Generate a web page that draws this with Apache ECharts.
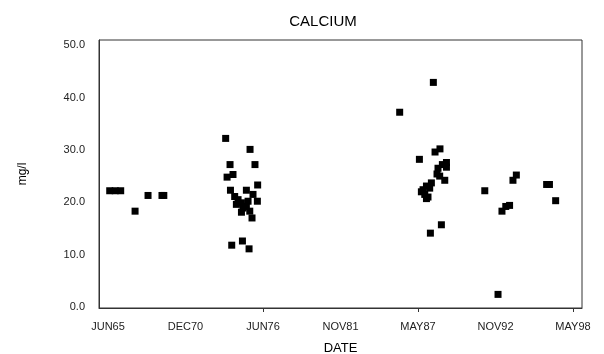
<!DOCTYPE html>
<html>
<head>
<meta charset="utf-8">
<script src="https://cdn.jsdelivr.net/npm/echarts@6/dist/echarts.min.js"></script>
<style>html,body{margin:0;padding:0;background:#fff}#c{width:604px;height:354px}</style>
</head>
<body>
<div id="c"></div>
<script>
// Sample dates (decimal years) and calcium concentrations (mg/l)
var dates = [
  1965.54, 1965.93, 1966.32, 1967.34, 1968.26, 1969.25, 1969.38,
  1973.77, 1975.50, 1974.08, 1975.85, 1973.87, 1974.29, 1976.04, 1974.11, 1975.24, 1975.71, 1976.02,
  1974.41, 1974.65, 1974.53, 1974.89, 1975.00, 1975.36, 1975.24, 1974.89, 1975.48, 1975.64,
  1974.20, 1974.96, 1975.43,
  1988.51, 1986.12, 1988.98, 1988.63, 1987.52,
  1989.44, 1989.15, 1988.84, 1989.44, 1988.77, 1988.96, 1989.32,
  1988.37, 1988.02, 1987.78, 1987.66, 1987.90, 1988.13, 1988.02, 1988.25,
  1989.08, 1988.30,
  1992.16, 1994.40, 1994.16, 1996.55, 1996.75, 1997.19, 1993.38, 1993.65, 1993.92, 1993.10
];
var calcium = [
  22.2, 22.2, 22.2, 18.3, 21.3, 21.3, 21.3,
  32.2, 30.1, 27.2, 27.2, 24.8, 25.3, 23.3, 22.3, 22.3, 21.5, 20.2,
  21.1, 20.5, 19.6, 19.9, 18.9, 20.2, 19.2, 18.1, 18.3, 17.0,
  11.8, 12.6, 11.1,
  42.9, 37.2, 30.2, 29.6, 28.2,
  27.6, 27.2, 26.5, 26.7, 25.4, 25.0, 24.2,
  23.7, 23.1, 22.4, 22.0, 21.5, 21.0, 20.7, 22.7,
  15.7, 14.1,
  22.2, 25.2, 24.2, 23.4, 23.4, 20.3, 18.3, 19.2, 19.4, 2.4
];
var xTickValues = [1965.42, 1970.92, 1976.42, 1981.92, 1987.42, 1992.92, 1998.42];
var xTickLabels = ['JUN65', 'DEC70', 'JUN76', 'NOV81', 'MAY87', 'NOV92', 'MAY98'];
var xMarkValues = [1976.42, 1987.42, 1998.42];
var yTickValues = [0, 10, 20, 30, 40, 50];

var points = dates.map(function (d, i) { return [d, calcium[i]]; });
var font = 'Liberation Sans, Arial, sans-serif';

var chart = echarts.init(document.getElementById('c'), null, { renderer: 'canvas' });
chart.setOption({
  animation: false,
  backgroundColor: '#fff',
  title: {
    text: 'CALCIUM', left: 318, top: 9, textAlign: 'center',
    textStyle: { fontFamily: font, fontSize: 15, fontWeight: 'normal', color: '#000' }
  },
  grid: {
    left: 99, right: 22, top: 40, bottom: 46, containLabel: false, outerBoundsMode: 'none',
    show: true, borderColor: '#333', borderWidth: 1, backgroundColor: 'transparent'
  },
  xAxis: {
    type: 'value', min: 1964.78, max: 1999.06,
    name: 'DATE', nameLocation: 'middle', nameGap: 34,
    nameTextStyle: { fontFamily: font, fontSize: 13, color: '#000' },
    axisLine: { show: true, onZero: false, lineStyle: { color: '#333', width: 1 } },
    splitLine: { show: false },
    axisTick: { show: true, customValues: xMarkValues, length: 4, inside: false, lineStyle: { color: '#333' } },
    axisLabel: {
      customValues: xTickValues, margin: 13,
      fontFamily: font, fontSize: 11, color: '#222',
      formatter: function (v) {
        for (var i = 0; i < xTickValues.length; i++) { if (Math.abs(xTickValues[i] - v) < 0.01) return xTickLabels[i]; }
        return '';
      }
    }
  },
  yAxis: {
    type: 'value', min: -0.2, max: 51,
    name: 'mg/l', nameLocation: 'middle', nameGap: 70, nameRotate: 90,
    nameTextStyle: { fontFamily: font, fontSize: 12, color: '#000' },
    axisLine: { show: true, onZero: false, lineStyle: { color: '#333', width: 1 } },
    splitLine: { show: false },
    axisTick: { show: false },
    axisLabel: {
      customValues: yTickValues, margin: 14,
      fontFamily: font, fontSize: 11, color: '#222',
      formatter: function (v) { return v.toFixed(1); }
    }
  },
  series: [{
    type: 'scatter', data: points, symbol: 'rect', symbolSize: 7,
    itemStyle: { color: '#000', opacity: 1 }
  }]
});
</script>
</body>
</html>
